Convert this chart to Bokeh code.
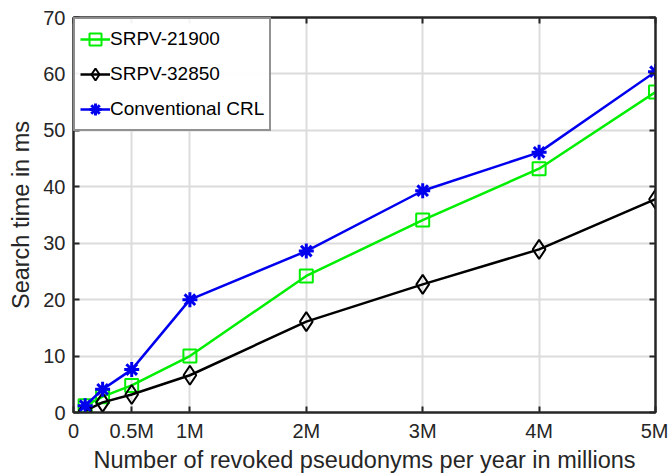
from bokeh.plotting import figure
from bokeh.embed import file_html
from bokeh.resources import INLINE
from bokeh.models import FixedTicker, LinearAxis, Range1d, Legend, LegendItem, CustomJSTickFormatter

x = [0.1, 0.25, 0.5, 1, 2, 3, 4, 5]
srpv_21900 = [1.2, 2.8, 4.8, 10.0, 24.2, 34.1, 43.2, 56.8]
srpv_32850 = [0.3, 1.8, 3.2, 6.6, 16.1, 22.7, 28.9, 37.8]
conventional = [1.2, 4.1, 7.6, 20.0, 28.6, 39.3, 46.1, 60.4]
x_ticks = [0, 0.5, 1, 2, 3, 4, 5]
x_tick_labels = ["0", "0.5M", "1M", "2M", "3M", "4M", "5M"]
y_ticks = [0, 10, 20, 30, 40, 50, 60, 70]

FONT = "Liberation Sans"

p = figure(width=668, height=475, output_backend="svg", toolbar_location=None,
           x_range=Range1d(0, 5), y_range=Range1d(0, 70),
           min_border_left=73, min_border_right=13, min_border_top=17, min_border_bottom=63)
p.background_fill_color = "white"
p.border_fill_color = "white"
p.outline_line_color = "#262626"
p.outline_line_width = 2

p.xaxis.ticker = FixedTicker(ticks=x_ticks)
p.xaxis.major_label_overrides = {t: l for t, l in zip(x_ticks, x_tick_labels)}
p.yaxis.ticker = FixedTicker(ticks=y_ticks)
for ax in [p.xaxis[0], p.yaxis[0]]:
    ax.major_tick_in = 6
    ax.major_tick_out = 0
    ax.minor_tick_in = 0
    ax.minor_tick_out = 0
    ax.axis_line_color = "#262626"
    ax.axis_line_width = 2
    ax.major_tick_line_color = "#262626"
    ax.major_tick_line_width = 2
    ax.major_label_text_font = FONT
    ax.major_label_text_font_size = "20px"
    ax.major_label_text_color = "#262626"
    ax.axis_label_text_font = FONT
    ax.axis_label_text_font_size = "23.5px"
    ax.axis_label_text_font_style = "normal"
    ax.axis_label_text_color = "#262626"
p.xaxis.axis_label = "Number of revoked pseudonyms per year in millions"
p.yaxis.axis_label = "Search time in ms"
p.xaxis.major_label_standoff = 7
p.yaxis.major_label_standoff = 8
p.xaxis.axis_label_standoff = 2
p.yaxis.axis_label_standoff = 6

blank = CustomJSTickFormatter(code="return '';")
for loc, tk in [("right", y_ticks), ("above", x_ticks)]:
    ax = LinearAxis(ticker=FixedTicker(ticks=tk), formatter=blank,
                    major_tick_in=6, major_tick_out=0, minor_tick_in=0, minor_tick_out=0,
                    axis_line_color="#262626", axis_line_width=2,
                    major_tick_line_color="#262626", major_tick_line_width=2,
                    major_label_standoff=0)
    p.add_layout(ax, loc)

p.xgrid.ticker = FixedTicker(ticks=x_ticks)
p.ygrid.ticker = FixedTicker(ticks=y_ticks)
p.grid.grid_line_color = "#dcdcdc"
p.grid.grid_line_width = 2

g1 = p.line(x, srpv_21900, line_color="#00ee00", line_width=2.5)
g1m = p.scatter(x, srpv_21900, marker="square", size=13, fill_color=None,
                line_color="#00ee00", line_width=2)
g2 = p.line(x, srpv_32850, line_color="black", line_width=2.5)
g2m = p.scatter(x, srpv_32850, marker="diamond", size=19, fill_color=None,
                line_color="black", line_width=2)
g3 = p.line(x, conventional, line_color="#0000ee", line_width=2.5)
g3m = p.scatter(x, conventional, marker="asterisk", size=15,
                line_color="#0000ee", line_width=3)

legend = Legend(items=[
    LegendItem(label="SRPV-21900", renderers=[g1, g1m]),
    LegendItem(label="SRPV-32850", renderers=[g2, g2m]),
    LegendItem(label="Conventional CRL", renderers=[g3, g3m]),
], location="top_left")
legend.label_text_font = FONT
legend.label_text_font_size = "19px"
legend.label_text_color = "black"
legend.border_line_color = "#262626"
legend.border_line_width = 2
legend.glyph_width = 30
legend.glyph_height = 30
legend.spacing = 5
legend.padding = 5
legend.margin = 0
legend.label_standoff = 0
p.add_layout(legend, "center")

open("out.html", "w").write(file_html(p, INLINE))
